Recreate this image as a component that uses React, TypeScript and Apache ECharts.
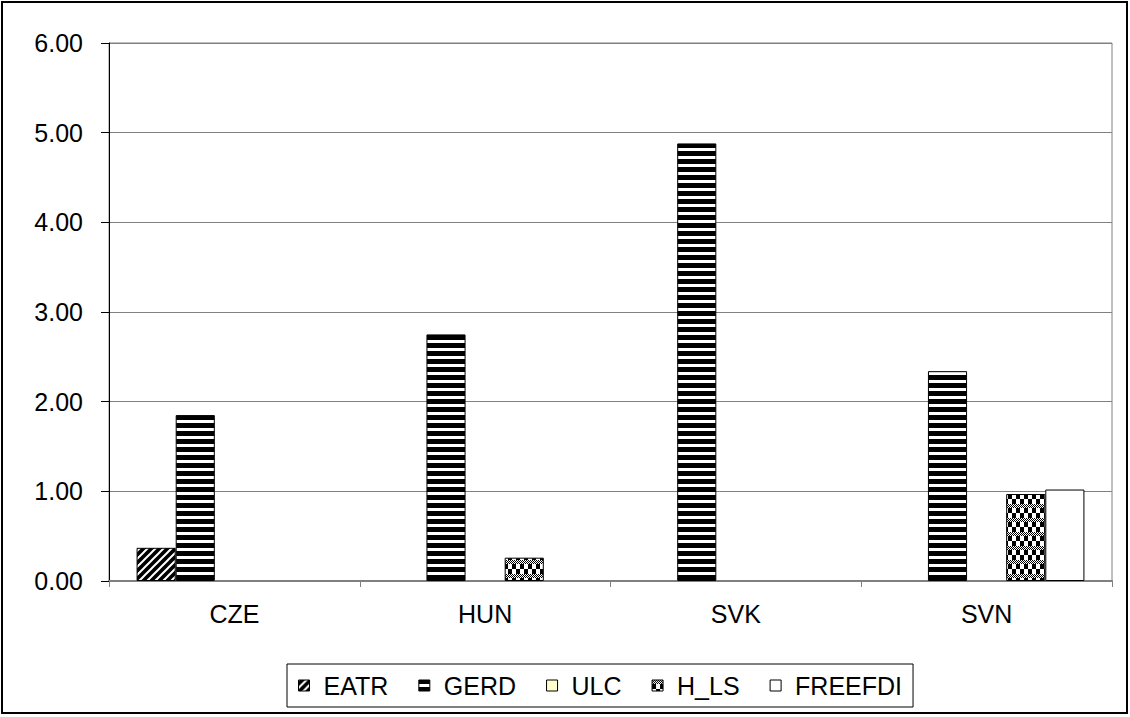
import React, { useEffect, useRef } from "react";
import * as echarts from "echarts";

const categories = ["CZE", "HUN", "SVK", "SVN"];
const seriesNames = ["EATR", "GERD", "ULC", "H_LS", "FREEFDI"];
const eatr = [0.37, 0, 0, 0];
const gerd = [1.85, 2.75, 4.88, 2.34];
const ulc = [0, 0, 0, 0];
const hls = [0, 0.26, 0, 0.97];
const freefdi = [0, 0, 0, 1.02];
const yTicks = [0, 1, 2, 3, 4, 5, 6];

function makeTile(w: number, h: number, draw: (ctx: CanvasRenderingContext2D) => void) {
  const c = document.createElement("canvas");
  c.width = w;
  c.height = h;
  const ctx = c.getContext("2d")!;
  draw(ctx);
  return { image: c, repeat: "repeat", imageWidth: w, imageHeight: h } as any;
}

export default function App() {
  const ref = useRef<HTMLDivElement>(null);
  useEffect(() => {
    if (!ref.current) return;
    const chart = echarts.init(ref.current, undefined, { renderer: "svg" });

    const diag = makeTile(8, 8, (ctx) => {
      ctx.fillStyle = "#000";
      ctx.fillRect(0, 0, 8, 8);
      ctx.strokeStyle = "#fff";
      ctx.lineWidth = 2;
      ctx.beginPath();
      ctx.moveTo(-2, 10);
      ctx.lineTo(10, -2);
      ctx.moveTo(-6, 6);
      ctx.lineTo(6, -6);
      ctx.moveTo(2, 14);
      ctx.lineTo(14, 2);
      ctx.stroke();
    });
    const hstripe = makeTile(8, 8, (ctx) => {
      ctx.fillStyle = "#000";
      ctx.fillRect(0, 0, 8, 8);
      ctx.fillStyle = "#fff";
      ctx.fillRect(0, 4, 8, 3);
    });
    const check = makeTile(8, 14, (ctx) => {
      ctx.fillStyle = "#fff";
      ctx.fillRect(0, 0, 8, 14);
      ctx.fillStyle = "#000";
      for (let y = 0; y < 4; y++)
        for (let x = 0; x < 8; x++) if ((x + y) % 2 === 0) ctx.fillRect(x, y, 1, 1);
      ctx.fillRect(0, 4, 4, 5);
      ctx.fillRect(4, 9, 4, 5);
    });

    const fills = [diag, hstripe, "#FFFFCC", check, "#FFFFFF"];
    const datas = [eatr, gerd, ulc, hls, freefdi];
    const font = "'Liberation Sans', Arial, sans-serif";

    chart.setOption({
      animation: false,
      backgroundColor: "#fff",
      textStyle: { fontFamily: font },
      graphic: [
        {
          type: "rect",
          shape: { x: 2, y: 2, width: 1125, height: 711 },
          style: { fill: "none", stroke: "#000", lineWidth: 2 },
          silent: true,
        },
      ],
      legend: {
        left: 287,
        top: 664,
        data: seriesNames,
        icon: "rect",
        itemWidth: 11,
        itemHeight: 11,
        itemGap: 30,
        padding: [9, 11, 9, 11],
        borderColor: "#000",
        borderWidth: 1,
        textStyle: { fontSize: 25, color: "#000", fontFamily: font, padding: [0, 0, 0, 9] },
        itemStyle: { borderColor: "#000", borderWidth: 1 },
      },
      grid: {
        left: 109,
        right: 18,
        top: 43,
        bottom: 136,
        show: true,
        borderColor: "#808080",
        borderWidth: 1,
        containLabel: false,
      },
      xAxis: {
        type: "category",
        data: categories,
        axisLine: { lineStyle: { color: "#808080", width: 2 } },
        axisTick: { show: true, length: 6, lineStyle: { color: "#808080" } },
        axisLabel: { fontSize: 25, color: "#000", margin: 20, fontFamily: font },
      },
      yAxis: {
        type: "value",
        min: 0,
        max: yTicks[yTicks.length - 1],
        interval: 1,
        axisLine: { show: true, lineStyle: { color: "#000", width: 1 } },
        axisTick: { show: true, length: 8, lineStyle: { color: "#000" } },
        axisLabel: {
          fontSize: 25,
          color: "#000",
          margin: 26,
          fontFamily: font,
          formatter: (v: number) => v.toFixed(2),
        },
        splitLine: { show: true, lineStyle: { color: "#808080", width: 1 } },
      },
      series: seriesNames.map((name, i) => ({
        name,
        type: "bar",
        data: datas[i].map((v) =>
          v === 0 ? { value: v, itemStyle: { borderWidth: 0, opacity: 0 } } : v
        ),
        barGap: "0%",
        barCategoryGap: "22%",
        itemStyle: { color: fills[i], borderColor: "#000", borderWidth: 1 },
      })),
    });
    return () => chart.dispose();
  }, []);
  return (
    <div
      ref={ref}
      style={{ position: "fixed", left: 0, top: 0, width: 1130, height: 717 }}
    />
  );
}
